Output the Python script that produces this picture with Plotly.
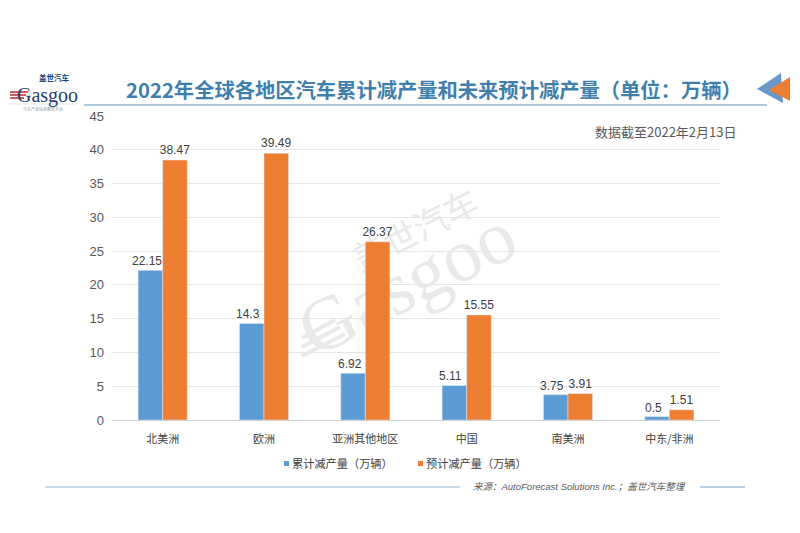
import plotly.graph_objects as go

# the page keeps the browser's 8px body margin, so the figure is 8px smaller
# and px()/py() take the picture's pixels and remove that offset
OFFSET = 8
W, H = 800 - OFFSET, 533 - OFFSET

regions = ["北美洲", "欧洲", "亚洲其他地区", "中国", "南美洲", "中东/非洲"]
cut_so_far = [22.15, 14.3, 6.92, 5.11, 3.75, 0.5]
cut_forecast = [38.47, 39.49, 26.37, 15.55, 3.91, 1.51]
y_ticks = [0, 5, 10, 15, 20, 25, 30, 35, 40, 45]

BLUE = "#5b9bd5"
ORANGE = "#ed7d31"
SANS = "Liberation Sans, Noto Sans CJK SC, sans-serif"
CJK = "Noto Sans CJK SC, sans-serif"
SERIF = "Liberation Serif, serif"
MARK = "#e9e9e9"
VALUE_FONT = dict(size=12, color="#404040", family=SANS)


def px(x):
    return (x - OFFSET) / W


def py(y):
    return 1 - (y - OFFSET) / H


def label(x, y, text, size, color, font=CJK, anchor="center", angle=0):
    return dict(x=px(x), y=py(y), xref="paper", yref="paper", text=text, showarrow=False,
                xanchor=anchor, yanchor="middle", textangle=angle,
                font=dict(size=size, color=color, family=font))


def line(x0, y0, x1, y1, color, width=1, layer="above"):
    return dict(type="line", xref="paper", yref="paper", x0=px(x0), y0=py(y0), x1=px(x1), y1=py(y1),
                layer=layer, line=dict(color=color, width=width))


def poly(points, color):
    path = "M" + " L".join(f"{px(a):.4f},{py(b):.4f}" for a, b in points) + " Z"
    return dict(type="path", xref="paper", yref="paper", path=path, fillcolor=color, line=dict(width=0))


def square(x0, y0, size, color):
    return dict(type="rect", xref="paper", yref="paper", x0=px(x0), x1=px(x0 + size),
                y0=py(y0 + size), y1=py(y0), fillcolor=color, line=dict(width=0))


def behind_bars(x0, y0, x1, y1, text, size, font):
    # watermark goes behind the bars, so it is a label on an invisible shape
    return dict(type="rect", xref="paper", yref="paper", layer="below",
                x0=px(x0), x1=px(x1), y0=py(y1), y1=py(y0), line=dict(width=0),
                label=dict(text=text, textangle=-27, textposition="middle center",
                           font=dict(size=size, color=MARK, family=font)))


fig = go.Figure()
fig.add_trace(go.Bar(x=regions, y=cut_so_far, name="累计减产量（万辆）", marker_color=BLUE))
fig.add_trace(go.Bar(x=regions, y=cut_forecast, name="预计减产量（万辆）", marker_color=ORANGE,
                     text=cut_forecast, textposition="outside", cliponaxis=False,
                     textfont=VALUE_FONT, textangle=0, constraintext="none"))

shapes = [
    behind_bars(293, 210, 513, 340, "Gasgoo", 76, SERIF),
    behind_bars(347, 193, 487, 273, "盖世汽车", 34, CJK),
    line(302, 338, 335, 320, MARK, 4, "below"),
    line(302, 347, 340, 327, MARK, 4, "below"),
    line(302, 356, 345, 334, MARK, 4, "below"),
    line(84, 105, 767, 105, "#5f9ac2", 1.2),
    line(9, 104, 77, 104, "#d9d9d9", 0.7),
    line(10, 92, 28, 92, "#c8272d", 1.5),
    line(10, 95, 26, 95, "#c8272d", 1.5),
    line(10, 98, 24, 98, "#c8272d", 1.5),
    poly([(757, 89), (781, 73), (783, 103)], "#6a96c8"),
    poly([(769, 90), (790, 77), (790, 101)], ORANGE),
    line(45, 487, 460, 487, "#8fb8d8", 1.2),
    line(700, 487, 745, 487, "#6fa3cc", 1.2),
    square(284, 461, 5, BLUE),
    square(418, 461, 5, ORANGE),
]

annotations = [
    label(434, 89, "<b>2022年全球各地区汽车累计减产量和未来预计减产量（单位：万辆）</b>", 20.3, "#3f7fad"),
    label(666, 131, "数据截至2022年2月13日", 13, "#595959"),
    label(342, 463, "累计减产量（万辆）", 11.2, "#404040"),
    label(476, 463, "预计减产量（万辆）", 11.2, "#404040"),
    label(579, 486, "<i>来源：AutoForecast Solutions Inc.；盖世汽车整理</i>", 9.5, "#595959", font=SANS),
    label(54, 78, "<b>盖世汽车</b>", 7.5, "#1f3f73"),
    label(47, 96, "Gasgoo", 20, "#1f3f73", font=SERIF),
    label(43, 109, "汽车产业信息服务平台", 4, "#8c8c8c"),
]

# blue value labels sit a little left of their bars, clear of the orange bar
for i, value in enumerate(cut_so_far):
    annotations.append(dict(x=i - 0.155, y=value, xref="x", yref="y", text=str(value), showarrow=False,
                            xanchor="center", yanchor="bottom", font=VALUE_FONT))

fig.update_layout(
    width=W, height=H,
    margin=dict(l=0, r=0, t=0, b=0),
    paper_bgcolor="white", plot_bgcolor="white",
    barmode="group", bargap=0.515, bargroupgap=0,
    showlegend=False,
    shapes=shapes, annotations=annotations,
    xaxis=dict(domain=[px(112), px(720)], automargin=False, ticklabelstandoff=9,
               tickfont=dict(size=11, color="#404040", family=CJK),
               showline=True, linecolor="#d0d0d0", ticks="", showgrid=False),
    yaxis=dict(domain=[py(420), py(116)], range=[0, 45], tickvals=y_ticks, automargin=False,
               ticklabelstandoff=7,
               tickfont=dict(size=13, color="#595959", family=SANS),
               showgrid=True, gridcolor="#e6e6e6", gridwidth=1, zeroline=False, showline=False, ticks=""),
)

fig.write_html("out.html")
